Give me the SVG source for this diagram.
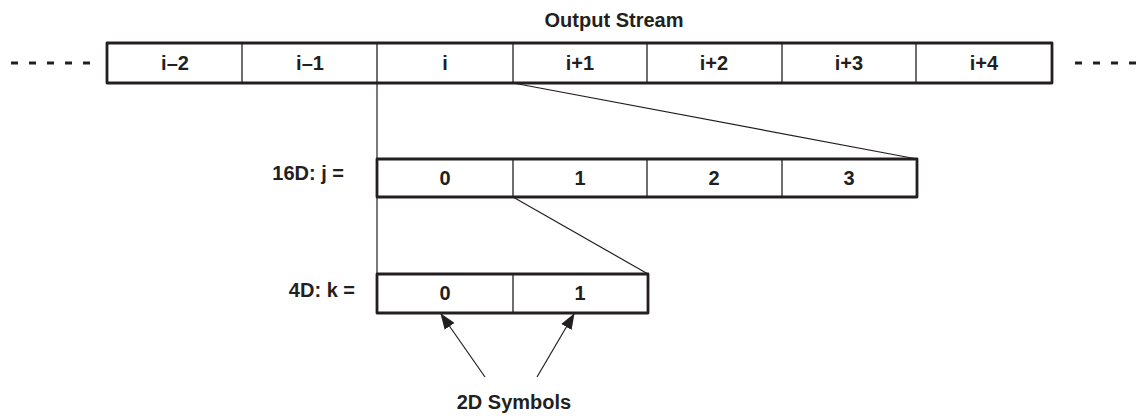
<svg xmlns="http://www.w3.org/2000/svg" width="1146" height="416" viewBox="0 0 1146 416">
<style>
text{font-family:"Liberation Sans",Arial,sans-serif;font-weight:bold;font-size:20px;fill:#231f20}
.c{text-anchor:middle}
.e{text-anchor:end}
.box{fill:#fff;stroke:#231f20;stroke-width:2.8;stroke-linejoin:round}
.div{stroke:#231f20;stroke-width:1.3}
.thin{stroke:#231f20;stroke-width:1.2;fill:none}
.dash{stroke:#231f20;stroke-width:3;stroke-dasharray:7 11}
</style>
<defs>
<marker id="ah" markerWidth="16" markerHeight="12" viewBox="0 0 16 12" refX="15" refY="6" orient="auto" markerUnits="userSpaceOnUse">
<path d="M0,0 L16,6 L0,12 Z" fill="#231f20"/>
</marker>
</defs>
<rect width="1146" height="416" fill="#fff"/>
<g id="connectors">
<line class="thin" x1="377" y1="83" x2="377" y2="274"/>
<line class="thin" x1="513" y1="83" x2="917" y2="159"/>
<line class="thin" x1="513" y1="197" x2="648" y2="274"/>
<line class="thin" x1="485" y1="377" x2="441" y2="314" marker-end="url(#ah)"/>
<line class="thin" x1="537" y1="377" x2="574" y2="314" marker-end="url(#ah)"/>
</g>
<g id="stream">
<text class="c" x="614" y="27">Output Stream</text>
<line class="dash" x1="11" y1="63" x2="92" y2="63"/>
<line class="dash" x1="1075" y1="63" x2="1150" y2="63"/>
<rect class="box" x="107" y="43" width="945" height="40"/>
<line class="div" x1="242" y1="43" x2="242" y2="83"/>
<line class="div" x1="377" y1="43" x2="377" y2="83"/>
<line class="div" x1="513" y1="43" x2="513" y2="83"/>
<line class="div" x1="647" y1="43" x2="647" y2="83"/>
<line class="div" x1="782" y1="43" x2="782" y2="83"/>
<line class="div" x1="916" y1="43" x2="916" y2="83"/>
<text class="c" x="175" y="70">i–2</text>
<text class="c" x="310" y="70">i–1</text>
<text class="c" x="445" y="70">i</text>
<text class="c" x="580" y="70">i+1</text>
<text class="c" x="714" y="70">i+2</text>
<text class="c" x="849" y="70">i+3</text>
<text class="c" x="984" y="70">i+4</text>
</g>
<g id="box16d">
<text class="e" x="344" y="180">16D: j =</text>
<rect class="box" x="377" y="159" width="540" height="38"/>
<line class="div" x1="513" y1="159" x2="513" y2="197"/>
<line class="div" x1="647" y1="159" x2="647" y2="197"/>
<line class="div" x1="782" y1="159" x2="782" y2="197"/>
<text class="c" x="445" y="185">0</text>
<text class="c" x="580" y="185">1</text>
<text class="c" x="714" y="185">2</text>
<text class="c" x="849" y="185">3</text>
</g>
<g id="box4d">
<text class="e" x="355" y="297">4D: k =</text>
<rect class="box" x="377" y="274" width="271" height="39"/>
<line class="div" x1="513" y1="274" x2="513" y2="313"/>
<text class="c" x="445" y="300">0</text>
<text class="c" x="580" y="300">1</text>
</g>
<g id="symbols">
<text class="c" x="514" y="409">2D Symbols</text>
</g>
</svg>
